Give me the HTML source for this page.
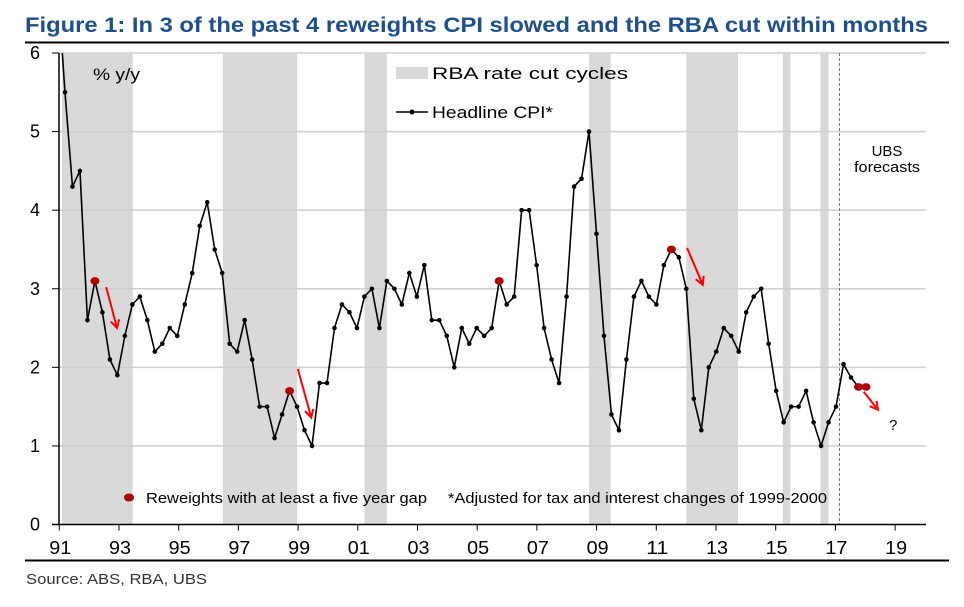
<!DOCTYPE html>
<html><head><meta charset="utf-8">
<style>
body{margin:0;background:#fff;}
svg{display:block;font-family:"Liberation Sans",Arial,sans-serif;}
</style></head>
<body>
<svg id="chart" width="964" height="607" viewBox="0 0 964 607">
<text x="25" y="32" font-size="21" font-weight="bold" fill="#1d4f8f" textLength="903" lengthAdjust="spacingAndGlyphs">Figure 1: In 3 of the past 4 reweights CPI slowed and the RBA cut within months</text>
<line x1="25" y1="42.5" x2="949" y2="42.5" stroke="#000" stroke-width="2"/>
<g id="bands"></g>
<g id="grid"></g>
<line x1="839.5" y1="53" x2="839.5" y2="524" stroke="#777" stroke-width="1" stroke-dasharray="3,2"/>
<g id="axes"></g>
<g id="series"></g>
<g id="arrows"></g>
<text x="93" y="80" font-size="17" textLength="47" lengthAdjust="spacingAndGlyphs">% y/y</text>
<rect x="396" y="67" width="32" height="12" fill="#d9d9d9"/>
<text x="432" y="79" font-size="17" textLength="196" lengthAdjust="spacingAndGlyphs">RBA rate cut cycles</text>
<line x1="396" y1="112" x2="428" y2="112" stroke="#000" stroke-width="1.5"/>
<circle cx="412" cy="112" r="2.5" fill="#000"/>
<text x="432" y="118" font-size="17" textLength="121" lengthAdjust="spacingAndGlyphs">Headline CPI*</text>
<text x="887" y="156" font-size="15" text-anchor="middle">UBS</text>
<text x="854" y="172" font-size="15" textLength="66" lengthAdjust="spacingAndGlyphs">forecasts</text>
<text x="889" y="430" font-size="15">?</text>
<ellipse cx="129" cy="497.5" rx="5" ry="4" fill="#b00000"/>
<text x="146" y="503" font-size="15" textLength="281" lengthAdjust="spacingAndGlyphs">Reweights with at least a five year gap</text>
<text x="448" y="503" font-size="15" textLength="379" lengthAdjust="spacingAndGlyphs">*Adjusted for tax and interest changes of 1999-2000</text>
<line x1="25" y1="560.5" x2="949" y2="560.5" stroke="#000" stroke-width="2"/>
<text x="26" y="584" font-size="15" fill="#333" textLength="181" lengthAdjust="spacingAndGlyphs">Source: ABS, RBA, UBS</text>
</svg>
<script>
// Quarterly headline CPI % y/y starting 1991 Q1
const cpiValues = [6.9,5.5,4.3,4.5,2.6,3.1,2.7,2.1,1.9,2.4,2.8,2.9,2.6,2.2,2.3,2.5,2.4,2.8,3.2,3.8,4.1,3.5,3.2,2.3,2.2,2.6,2.1,1.5,1.5,1.1,1.4,1.7,1.5,1.2,1.0,1.8,1.8,2.5,2.8,2.7,2.5,2.9,3.0,2.5,3.1,3.0,2.8,3.2,2.9,3.3,2.6,2.6,2.4,2.0,2.5,2.3,2.5,2.4,2.5,3.1,2.8,2.9,4.0,4.0,3.3,2.5,2.1,1.8,2.9,4.3,4.4,5.0,3.7,2.4,1.4,1.2,2.1,2.9,3.1,2.9,2.8,3.3,3.5,3.4,3.0,1.6,1.2,2.0,2.2,2.5,2.4,2.2,2.7,2.9,3.0,2.3,1.7,1.3,1.5,1.5,1.7,1.3,1.0,1.3,1.5,2.04,1.87,1.75,1.75];
// Indices of reweight quarters (red markers)
const reweightIdx = [5,31,59,82,107,108];
// RBA rate cut cycles, in quarter index units [start, end]
const bandStarts = [0.6,22.1,41.0,71.0,84.0,96.9,101.9];
const bandEnds = [10.05,32.0,44.0,73.9,90.9,97.9,103.0];
const yTicks = [0,1,2,3,4,5,6];
const xTickYears = [1991,1993,1995,1997,1999,2001,2003,2005,2007,2009,2011,2013,2015,2017,2019];
const xTickLabels = ["91","93","95","97","99","01","03","05","07","09","11","13","15","17","19"];
// Annotation arrows [fromIdx, fromVal, toIdx, toVal]
const arrowFromIdx = [6.5,32.1,84.1,107.7];
const arrowFromVal = [3.02,1.98,3.52,1.69];
const arrowToIdx = [7.95,33.9,86.2,109.6];
const arrowToVal = [2.5,1.36,3.05,1.46];

const NS = "http://www.w3.org/2000/svg";
const L = 59, R = 926, T = 53, B = 524.5;
function xq(i){ return 57.5 + 7.486*i; }
function xy(year){ return 59.3 + 29.85*(year-1991); }
function yv(v){ return B - (B-T)*v/6; }
function mk(tag, attrs, parent){
  const e = document.createElementNS(NS, tag);
  for (const k in attrs) e.setAttribute(k, attrs[k]);
  parent.appendChild(e);
  return e;
}
const bands = document.getElementById('bands');
bandStarts.forEach((s,i)=>{
  const x1 = Math.max(L, xq(s)), x2 = xq(bandEnds[i]);
  const r = mk('rect',{x:x1,y:T,width:x2-x1,height:B-T,fill:'#d9d9d9'},bands);
  
  
});
const grid = document.getElementById('grid');
yTicks.forEach(v=>{
  if (v===0) return;
  const g = mk('line',{x1:L,x2:R,y1:yv(v),y2:yv(v),stroke:'#cfcfcf','stroke-width':1.5},grid);
  
  
});
const axes = document.getElementById('axes');
const ya = mk('line',{x1:L,x2:L,y1:T,y2:B,stroke:'#000','stroke-width':1.5},axes);


const xa = mk('line',{x1:52,x2:R,y1:B,y2:B,stroke:'#000','stroke-width':1.5},axes);


yTicks.forEach(v=>{
  const t = mk('line',{x1:52,x2:L,y1:yv(v),y2:yv(v),stroke:'#000','stroke-width':1},axes);
  
  
  const tx = mk('text',{x:40,y:yv(v)+6,'font-size':18,'text-anchor':'end'},axes);
  tx.textContent = v;
  
  
});
xTickYears.forEach((yr,i)=>{
  const x = xy(yr);
  const t = mk('line',{x1:x,x2:x,y1:B,y2:B+6,stroke:'#000','stroke-width':1},axes);
  
  
  const tx = mk('text',{x:x+1,y:554,'font-size':18,'text-anchor':'middle',textLength:22,lengthAdjust:'spacingAndGlyphs'},axes);
  tx.textContent = xTickLabels[i];
  
  
});
const series = document.getElementById('series');
const cp = mk('clipPath',{id:'plotclip'},series);
mk('rect',{x:L,y:T,width:R-L,height:B-T},cp);
const pts = cpiValues.map((v,i)=>xq(i)+','+yv(v)).join(' ');
const line = mk('polyline',{points:pts,fill:'none',stroke:'#000','stroke-width':1.6,'clip-path':'url(#plotclip)'},series);


cpiValues.forEach((v,i)=>{
  if (yv(v) < T) return;
  const c = mk('circle',{cx:xq(i),cy:yv(v),r:2.3,fill:'#000'},series);
  
  
});
reweightIdx.forEach(i=>{
  const c = mk('ellipse',{cx:xq(i),cy:yv(cpiValues[i]),rx:4.5,ry:3.8,fill:'#b00000'},series);
  
  
});
const arrows = document.getElementById('arrows');
arrowFromIdx.forEach((a,i)=>{
  const x1=xq(a), y1=yv(arrowFromVal[i]), x2=xq(arrowToIdx[i]), y2=yv(arrowToVal[i]);
  const ang = Math.atan2(y2-y1,x2-x1), h=9, s=0.5;
  const d = `M${x1},${y1} L${x2},${y2} M${x2-h*Math.cos(ang-s)},${y2-h*Math.sin(ang-s)} L${x2},${y2} L${x2-h*Math.cos(ang+s)},${y2-h*Math.sin(ang+s)}`;
  const p = mk('path',{d:d,fill:'none',stroke:'#ff0000','stroke-width':2},arrows);
  
  
});
</script>
</body></html>
